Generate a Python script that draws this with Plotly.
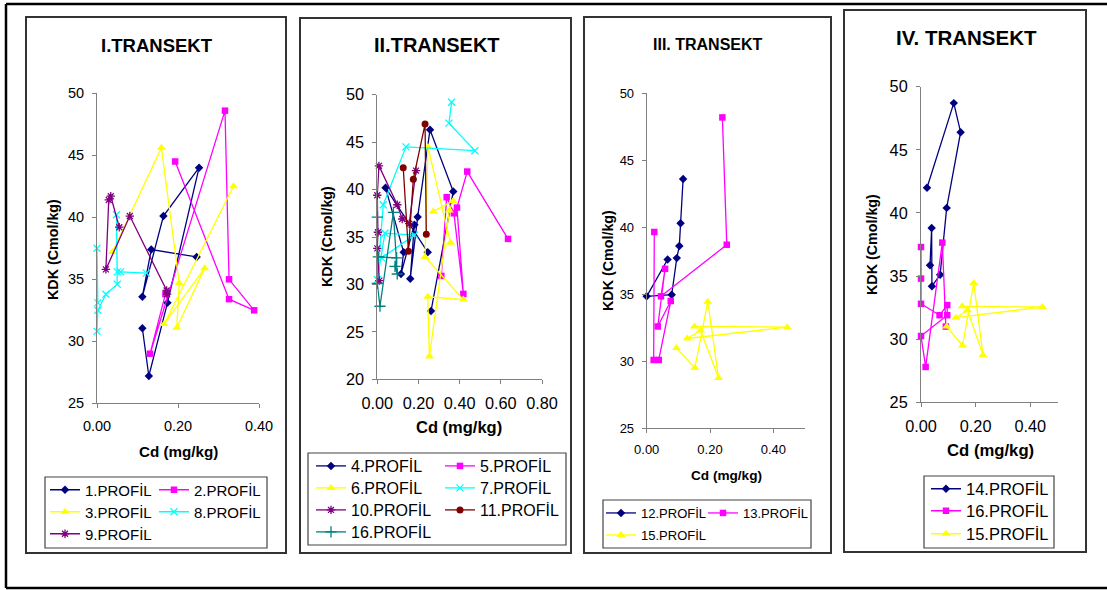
import plotly.graph_objects as go

W, H = 1107, 590
FONT = "Liberation Sans, Arial, sans-serif"

# ---------------- DATA ----------------
# Panel I
p1_x = [0.112, 0.128, 0.174, 0.252, 0.164, 0.112, 0.134, 0.246]
p1_y = [31.05, 27.2, 33.1, 44.0, 40.1, 33.6, 37.4, 36.8]
p2_x = [0.169, 0.131, 0.316, 0.326, 0.388, 0.326, 0.193]
p2_y = [33.8, 29.0, 48.6, 35.0, 32.5, 33.4, 44.5]
p3_x = [0.038, 0.159, 0.203, 0.197, 0.266, 0.166, 0.337]
p3_y = [37.2, 45.6, 34.7, 31.1, 35.9, 31.4, 42.5]
p8_x = [0.002, 0.0, 0.0, 0.002, 0.022, 0.050, 0.048, 0.050, 0.058, 0.122]
p8_y = [33.1, 37.5, 30.8, 32.5, 33.8, 34.6, 40.2, 35.6, 35.6, 35.5]
p9_x = [0.055, 0.034, 0.029, 0.022, 0.081, 0.172, 0.173]
p9_y = [39.2, 41.7, 41.4, 35.8, 40.1, 34.1, 33.8]

# Panel II
p4_x = [0.245, 0.040, 0.128, 0.115, 0.180, 0.160, 0.196, 0.256, 0.369, 0.261]
p4_y = [33.4, 40.2, 33.4, 31.1, 36.3, 30.6, 37.1, 46.3, 39.8, 27.2]
p5_x = [0.311, 0.337, 0.372, 0.418, 0.387, 0.437, 0.635]
p5_y = [30.9, 39.2, 37.5, 29.0, 38.1, 41.9, 34.8]
p6_x = [0.272, 0.369, 0.350, 0.253, 0.245, 0.418, 0.232, 0.246, 0.355]
p6_y = [37.7, 38.8, 37.8, 22.4, 28.7, 28.4, 32.9, 44.5, 34.4]
p7_x = [0.021, 0.181, 0.037, 0.0, 0.029, 0.139, 0.474, 0.348, 0.361]
p7_y = [32.8, 35.2, 35.4, 30.5, 38.4, 44.5, 44.1, 47.0, 49.2]
p10_x = [0.010, 0.0, 0.003, 0.0, 0.008, 0.097, 0.121, 0.155, 0.188]
p10_y = [30.4, 33.8, 35.5, 39.4, 42.5, 38.4, 36.9, 36.4, 42.0]
p11_x = [0.126, 0.151, 0.175, 0.232, 0.238]
p11_y = [42.3, 33.5, 41.1, 46.9, 35.3]
p16b_x = [0.0, 0.0, 0.013, 0.078, 0.097, 0.086, 0.094, 0.005]
p16b_y = [37.1, 30.1, 27.7, 37.6, 31.1, 31.9, 32.8, 32.9]

# Panel III
p12_x = [0.066, 0.0, 0.079, 0.095, 0.103, 0.107, 0.115]
p12_y = [37.6, 34.85, 34.97, 37.7, 38.6, 40.3, 43.6]
p13_x = [0.024, 0.022, 0.038, 0.076, 0.035, 0.058, 0.045, 0.253, 0.239]
p13_y = [39.65, 30.1, 30.1, 34.5, 32.6, 36.9, 34.85, 38.7, 48.2]
p15_x = [0.094, 0.152, 0.193, 0.227, 0.170, 0.128, 0.444, 0.151]
p15_y = [31.0, 29.5, 34.45, 28.75, 32.3, 31.7, 32.55, 32.6]

# Panel IV
p14_x = [0.022, 0.120, 0.145, 0.094, 0.070, 0.040, 0.039, 0.033]
p14_y = [42.0, 48.7, 46.4, 40.4, 35.1, 34.2, 38.8, 35.85]
p16d_x = [0.0, 0.0, 0.0, 0.068, 0.096, 0.096, 0.0, 0.017, 0.078, 0.091]
p16d_y = [37.3, 34.8, 32.8, 31.9, 32.7, 31.9, 30.25, 27.8, 37.65, 31.0]

x_ticks_I = [0.0, 0.2, 0.4]
x_ticks_II = [0.0, 0.2, 0.4, 0.6, 0.8]
y_ticks_I = [25, 30, 35, 40, 45, 50]
y_ticks_II = [20, 25, 30, 35, 40, 45, 50]

# ---------------- STYLES ----------------
NAVY, MAG, YEL, CYAN, PUR, DRED, TEAL = ("#000080", "#FF00FF", "#FFFF00",
                                         "#00FFFF", "#800080", "#800000", "#008080")
# symbol, size, outline width
STY = {
    "dia": ("diamond", 6.5, 0),
    "sq": ("square", 6.5, 0),
    "tri": ("triangle-up", 8, 0),
    "x": ("x-thin-open", 7, 1.3),
    "ast": ("asterisk-open", 7, 1.3),
    "cir": ("circle", 7, 0),
    "plus": ("cross-thin-open", 8, 1.3),
}


def px(x):
    return x / W


def py(y):
    return 1 - y / H


fig = go.Figure()
layout = dict(width=W, height=H, margin=dict(l=0, r=0, t=0, b=0, autoexpand=False),
              paper_bgcolor="white", plot_bgcolor="rgba(0,0,0,0)",
              font=dict(family=FONT, color="black"), showlegend=True)

# panels: axis n, x pixel span, y pixel span, x range, y range, tick font size
panels = [
    (1, (97, 259), (93.3, 403.3), [0, 0.4], [25, 50], x_ticks_I, y_ticks_I, 14.5),
    (2, (377.3, 542), (94.7, 379.3), [0, 0.8], [20, 50], x_ticks_II, y_ticks_II, 16.3),
    (3, (646.7, 805), (93.3, 428.3), [0, 0.5], [25, 50], x_ticks_I, y_ticks_I, 13),
    (4, (921, 1057.6), (86.7, 402.3), [0, 0.5], [25, 50], x_ticks_I, y_ticks_I, 16.3),
]
for n, (x0, x1), (y0, y1), xr, yr, xt, yt, fs in panels:
    sfx = "" if n == 1 else str(n)
    common = dict(showline=True, linecolor="#808080", linewidth=1, ticks="outside",
                  ticklen=4, tickcolor="#808080", showgrid=False, zeroline=False,
                  automargin=False,
                  tickfont=dict(family=FONT, size=fs, color="black"))
    layout["xaxis" + sfx] = dict(domain=[px(x0), px(x1)], range=xr, anchor="y" + sfx,
                                 tickvals=xt, tickformat=".2f", ticklabelstandoff=5,
                                 **common)
    layout["yaxis" + sfx] = dict(domain=[py(y1), py(y0)], range=yr, anchor="x" + sfx,
                                 tickvals=yt, ticklabelstandoff=5, **common)

# series: (name, x, y, color, style, axis n, legend x px, legend y px, legend font)
series = [
    ("1.PROFİL", p1_x, p1_y, NAVY, "dia", 1, 45, 490, 15),
    ("2.PROFİL", p2_x, p2_y, MAG, "sq", 1, 154, 490, 15),
    ("3.PROFİL", p3_x, p3_y, YEL, "tri", 1, 45, 512, 15),
    ("8.PROFİL", p8_x, p8_y, CYAN, "x", 1, 154, 512, 15),
    ("9.PROFİL", p9_x, p9_y, PUR, "ast", 1, 45, 534, 15),
    ("4.PROFİL", p4_x, p4_y, NAVY, "dia", 2, 311, 466, 16),
    ("5.PROFİL", p5_x, p5_y, MAG, "sq", 2, 440, 466, 16),
    ("6.PROFİL", p6_x, p6_y, YEL, "tri", 2, 311, 488, 16),
    ("7.PROFİL", p7_x, p7_y, CYAN, "x", 2, 440, 488, 16),
    ("10.PROFİL", p10_x, p10_y, PUR, "ast", 2, 311, 510, 16),
    ("11.PROFİL", p11_x, p11_y, DRED, "cir", 2, 440, 510, 16),
    ("16.PROFİL", p16b_x, p16b_y, TEAL, "plus", 2, 311, 532, 16),
    ("12.PROFİL", p12_x, p12_y, NAVY, "dia", 3, 601, 513, 13),
    ("13.PROFİL", p13_x, p13_y, MAG, "sq", 3, 703, 513, 13),
    ("15.PROFİL", p15_x, p15_y, YEL, "tri", 3, 601, 535, 13),
    ("14.PROFİL", p14_x, p14_y, NAVY, "dia", 4, 926, 489, 16.5),
    ("16.PROFİL", p16d_x, p16d_y, MAG, "sq", 4, 926, 511, 16.5),
    ("15.PROFİL", p15_x, p15_y, YEL, "tri", 4, 926, 534, 16.5),
]

for i, (name, xs, ys, col, st, n, lx, ly, lfs) in enumerate(series):
    sfx = "" if n == 1 else str(n)
    lg = "legend" if i == 0 else "legend%d" % (i + 1)
    sym, size, lw = STY[st]
    m = dict(symbol=sym, size=size, color=col, line=dict(color=col, width=lw))
    fig.add_trace(go.Scatter(x=xs, y=ys, mode="lines+markers", name=name,
                             xaxis="x" + sfx, yaxis="y" + sfx, legend=lg,
                             line=dict(color=col, width=1.3), marker=m,
                             cliponaxis=False))
    layout[lg] = dict(x=px(lx), y=py(ly), xanchor="left", yanchor="middle",
                      bgcolor="rgba(0,0,0,0)", borderwidth=0, tracegroupgap=0,
                      font=dict(family=FONT, size=lfs, color="black"))

# ---------------- frames ----------------
shapes = []
for (xa, ya, xb, yb) in [(6, 4, 1107, 4), (6, 4, 6, 588), (6, 588, 1107, 588)]:
    shapes.append(dict(type="line", xref="paper", yref="paper", x0=px(xa), y0=py(ya),
                       x1=px(xb), y1=py(yb), line=dict(color="black", width=2.5)))
for (xa, ya, xb, yb) in [(26, 17, 286, 553), (300, 18, 571, 553),
                         (584, 17, 831, 553), (844, 10, 1086, 552)]:
    shapes.append(dict(type="rect", xref="paper", yref="paper", x0=px(xa), y0=py(ya),
                       x1=px(xb), y1=py(yb), line=dict(color="#333333", width=2)))
for (xa, ya, xb, yb) in [(45, 477, 267, 548), (308, 453, 566, 545),
                         (603, 500, 811, 548), (924, 476, 1054, 548)]:
    shapes.append(dict(type="rect", xref="paper", yref="paper", x0=px(xa), y0=py(ya),
                       x1=px(xb), y1=py(yb), line=dict(color="#444444", width=1.2)))
layout["shapes"] = shapes

# ---------------- texts ----------------
ann = []


def text(t, x, y, size, angle=0):
    ann.append(dict(text="<b>%s</b>" % t, x=px(x), y=py(y), xref="paper", yref="paper",
                    xanchor="center", yanchor="middle", showarrow=False, textangle=angle,
                    font=dict(family=FONT, size=size, color="black")))


text("I.TRANSEKT", 157, 45, 18.5)
text("II.TRANSEKT", 437, 45, 20)
text("III. TRANSEKT", 708, 44, 16)
text("IV. TRANSEKT", 966, 37, 20.5)
for (x, y) in [(53, 250), (327, 237), (608, 261), (872, 245)]:
    text("KDK (Cmol/kg)", x, y, 14.3, -90)
text("Cd (mg/kg)", 178, 451, 15.2)
text("Cd (mg/kg)", 459, 427, 16.5)
text("Cd (mg/kg)", 727, 475, 13.6)
text("Cd (mg/kg)", 990, 450, 16.7)
layout["annotations"] = ann

fig.update_layout(**layout)
fig.write_html("out.html")
